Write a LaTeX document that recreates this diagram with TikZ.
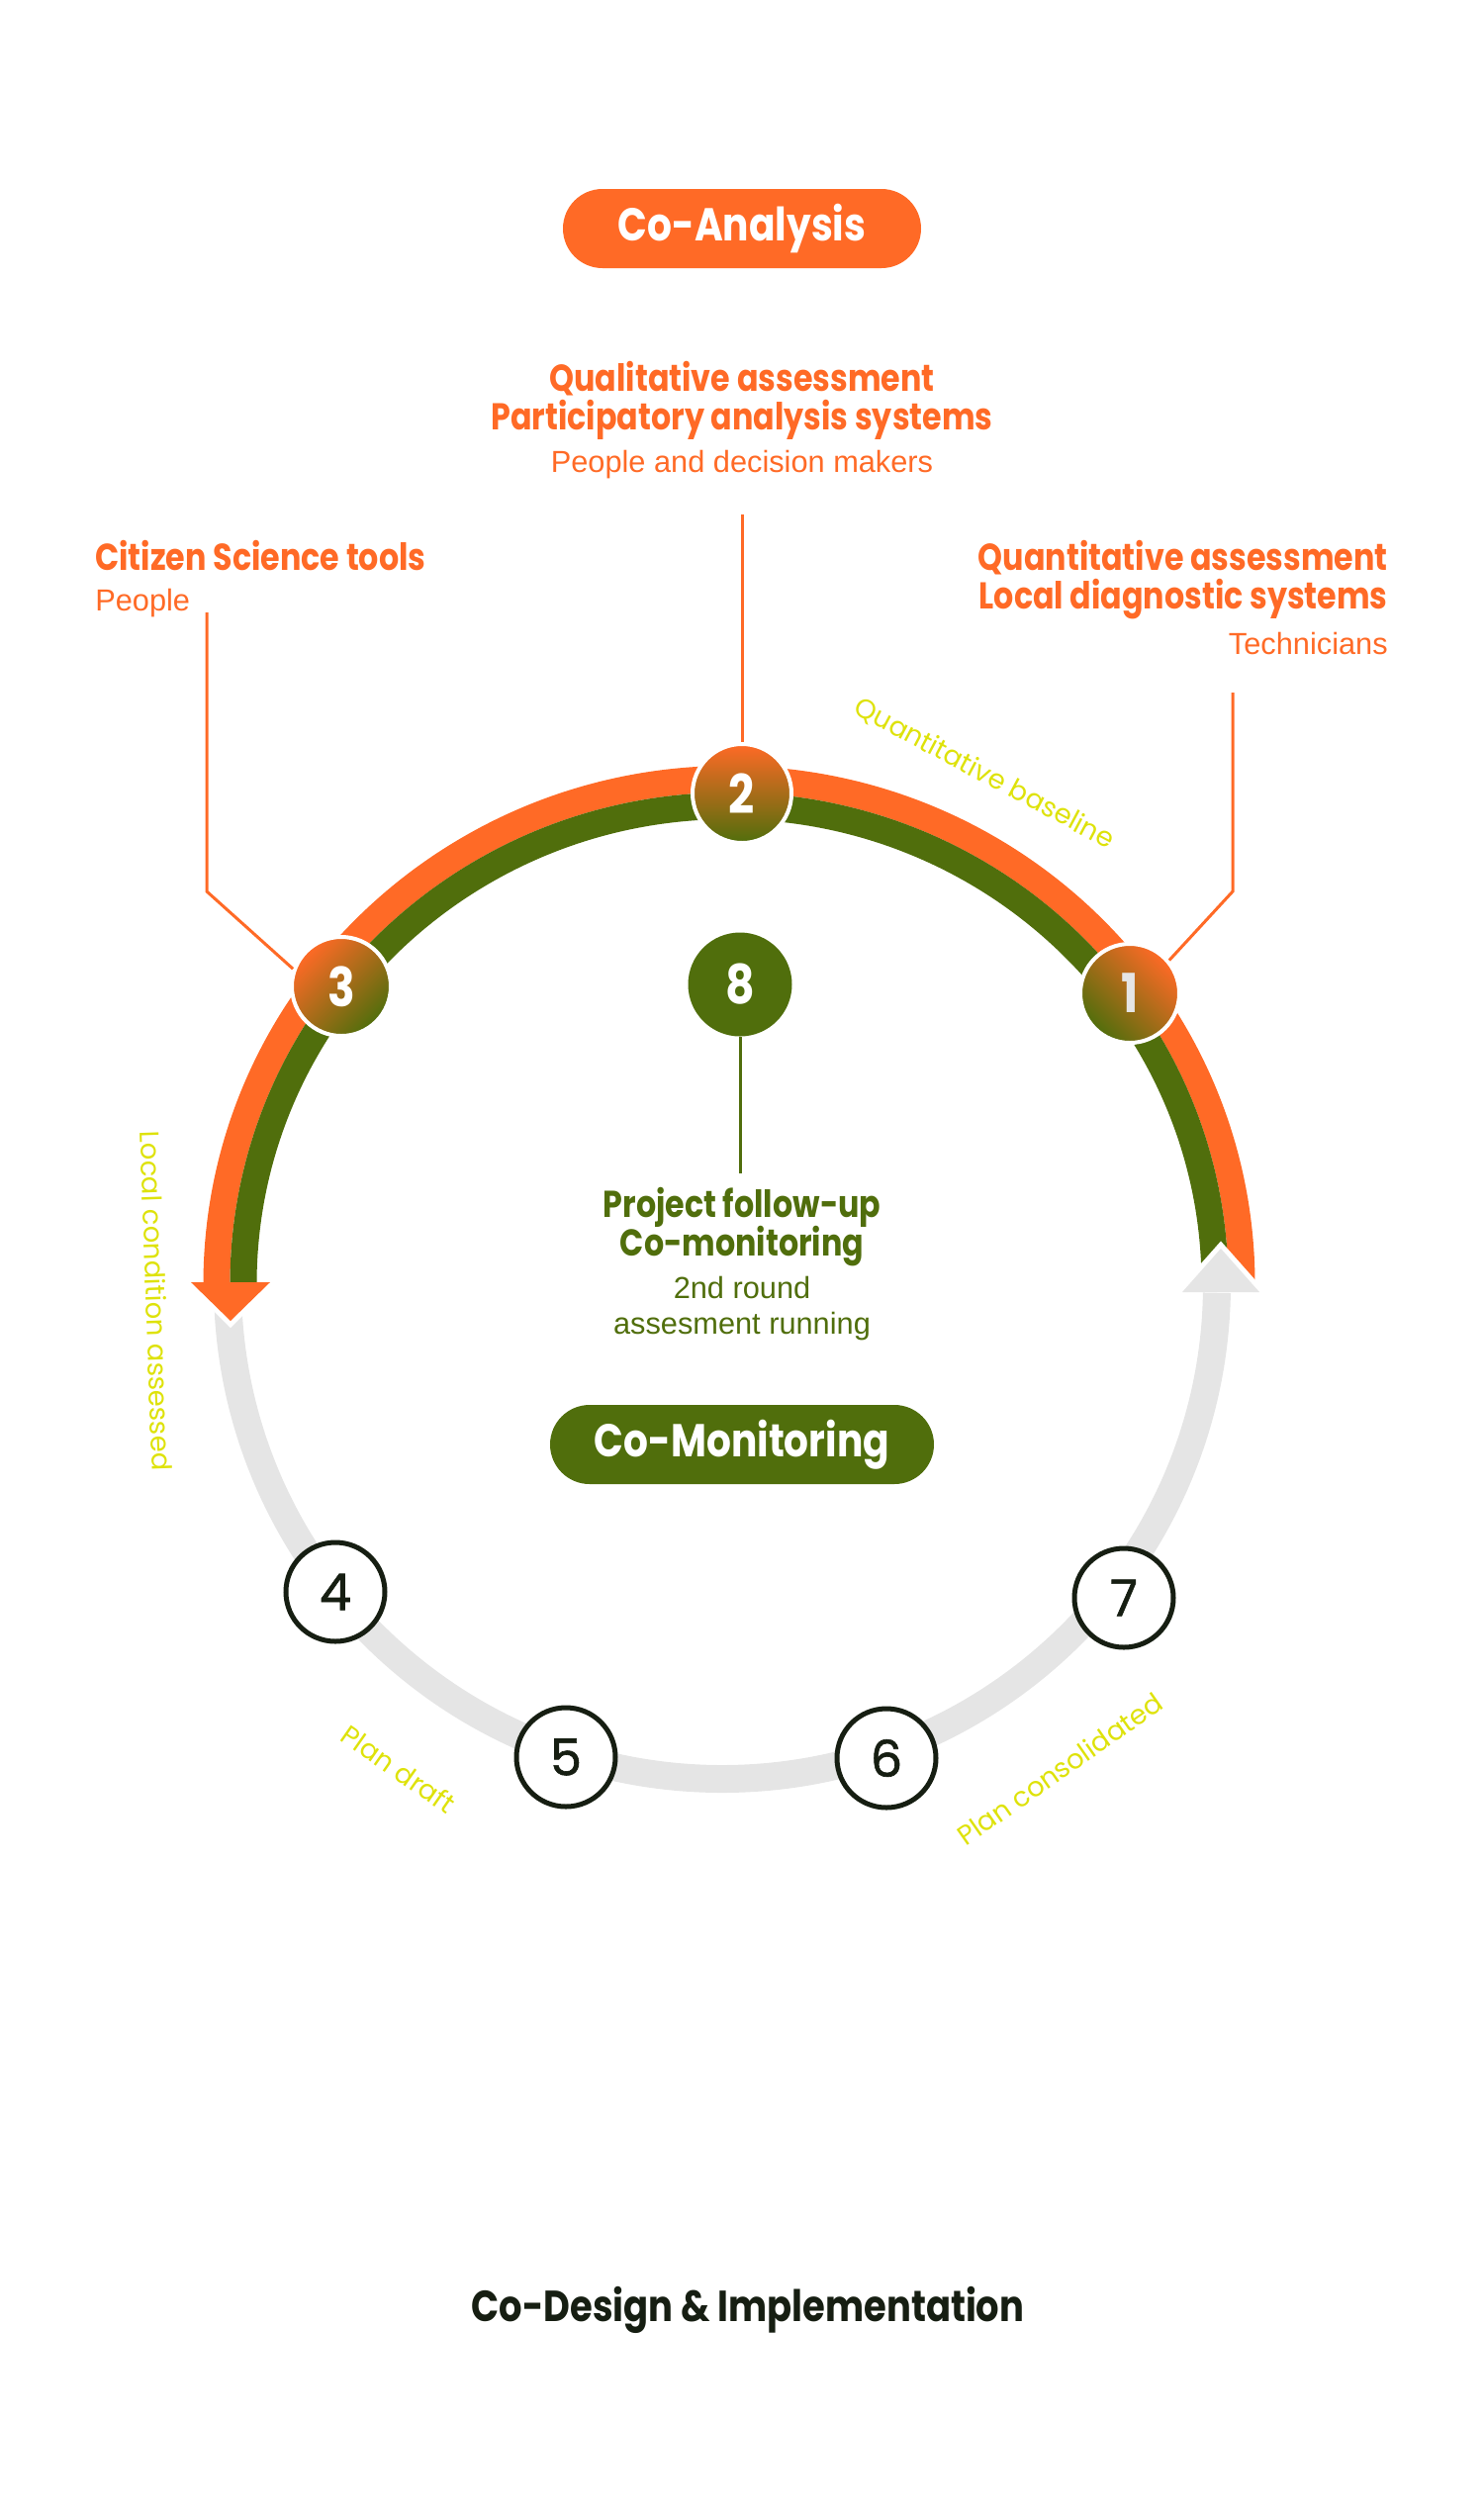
\documentclass[tikz,border=0pt]{standalone}
\usepackage{fontspec}
\usepackage{tikz}
\setmainfont{Liberation Sans}
\newfontfamily\dispfont[FakeStretch=0.84]{Poppins}
\newfontfamily\labfont{Poppins}
\newfontfamily\numfont[FakeBold=1.2]{Poppins}
\definecolor{coorange}{RGB}{255,106,38}
\definecolor{cogreen}{RGB}{80,110,12}
\definecolor{ringgray}{RGB}{229,229,229}
\definecolor{labyellow}{RGB}{222,226,10}
\definecolor{inkdark}{RGB}{22,30,18}

\begin{document}
\begin{tikzpicture}[
x=0.2mm, y=-0.2mm, % one unit = one pixel of the layout, y runs down
title/.style={font=\dispfont\bfseries\fontsize{21.5}{22}\selectfont, inner sep=0pt, anchor=base},
note/.style={font=\fontsize{17.5}{18}\selectfont, inner sep=0pt, anchor=base},
pill/.style={rounded corners=8mm, minimum height=16mm, text=white,
  font=\dispfont\bfseries\fontsize{26.5}{26.5}\selectfont},
arclabel/.style={font=\labfont\fontsize{15.6}{15.6}\selectfont, text=labyellow, inner sep=0pt},
hub/.style={circle, minimum size=20mm, draw=white, line width=0.8mm,
  top color=coorange, bottom color=cogreen, text=white,
  font=\dispfont\bfseries\fontsize{31}{31}\selectfont},
phase/.style={circle, minimum size=20mm, draw=inkdark, line width=1mm, fill=white,
  text=inkdark, font=\numfont\fontsize{29}{29}\selectfont},
lead/.style={coorange, line width=0.6mm}
]
\useasboundingbox (0,0) rectangle (1500,2540);

% ================= Ring =================
\coordinate (ctr) at (730,1298);
\coordinate (bandctr) at (737,1298);

% grey return path (bottom half)
\draw[ringgray, line width=5.6mm] (ctr) ++(180:500) arc[start angle=180, end angle=1, radius=500];

% orange / green band over the top
\draw[coorange, line width=5.4mm] (bandctr) ++(0:518) arc[start angle=0, end angle=-180, x radius=518, y radius=510.5];
\draw[cogreen, line width=5.4mm] (bandctr) ++(0:491) arc[start angle=0, end angle=-180, x radius=491, y radius=483.5];

% grey head on the right
\draw[white, line width=2mm] (1195,1306) -- (1234,1262) -- (1273,1306);
\fill[ringgray] (1195,1306) -- (1234,1262) -- (1273,1306) -- cycle;

% orange head on the left
\draw[white, line width=2mm] (213,1315) -- (233,1335) -- (253,1315);
\fill[coorange] (193,1296) -- (233,1335) -- (273,1296) -- cycle;

% ================= Nodes =================
\node[hub, shading angle=-45] (n1) at (1142,1004) {\textcolor{ringgray}{1}};
\node[hub] (n2) at (750,802) {2};
\node[hub, shading angle=45] (n3) at (345,997) {3};
\node[circle, minimum size=21mm, fill=cogreen, text=white,
  font=\dispfont\bfseries\fontsize{31}{31}\selectfont] (n8) at (748,995) {8};

\node[phase] (n4) at (339,1609) {4};
\node[phase] (n5) at (572,1776) {5};
\node[phase] (n6) at (896,1777) {6};
\node[phase] (n7) at (1136,1615) {7};

% Phase pills
\node[pill, fill=coorange, minimum width=72.4mm] (analysis) at (750,231) {Co-Analysis};
\node[pill, fill=cogreen, minimum width=77.6mm] (monitoring) at (750,1460) {Co-Monitoring};
\node[title, text=inkdark, font=\dispfont\bfseries\fontsize{25}{25}\selectfont] (design) at (756,2346) {Co-Design \& Implementation};

% Top block (step 2)
\node[title, text=coorange] (qual) at (750,395) {Qualitative assessment};
\node[title, text=coorange] (partic) at (750,434) {Participatory analysis systems};
\node[note, text=coorange] (people2) at (750,477) {People and decision makers};

% Left block (step 3)
\node[title, text=coorange, anchor=base west] (citizen) at (96,576) {Citizen Science tools};
\node[note, text=coorange, anchor=base west] (people3) at (96,617) {People};

% Right block (step 1)
\node[title, text=coorange, anchor=base east] (quant) at (1403,576) {Quantitative assessment};
\node[title, text=coorange, anchor=base east] (diag) at (1403,615) {Local diagnostic systems};
\node[note, text=coorange, anchor=base east] (tech) at (1403,661) {Technicians};

% Centre block (step 8)
\node[title, text=cogreen] (follow) at (750,1230) {Project follow-up};
\node[title, text=cogreen] (comon) at (750,1269) {Co-monitoring};
\node[note, text=cogreen] (round) at (750,1312) {2nd round};
\node[note, text=cogreen] (running) at (750,1348) {assesment running};

% Labels along the ring
\node[arclabel, rotate=-28] (baseline) at (995,782) {Quantitative baseline};
\node[arclabel, rotate=-88] (assessed) at (158,1315) {Local condition assessed};
\node[arclabel, rotate=-35] (draft) at (403,1788) {Plan draft};
\node[arclabel, rotate=35] (consol) at (1071,1788) {Plan consolidated};

% ================= Leaders =================
\coordinate (lead1a) at (1246,700);
\coordinate (lead1b) at (1246,901);
\coordinate (lead2a) at (750,520);
\coordinate (lead3a) at (209,619);
\coordinate (lead3b) at (209,901);
\coordinate (lead8a) at (748,1186);

\draw[lead] (lead2a) -- (n2);
\draw[lead] (lead3a) -- (lead3b) -- (n3.160);
\draw[lead] (lead1a) -- (lead1b) -- (n1.40);
\draw[lead, cogreen] (n8) -- (lead8a);

\end{tikzpicture}
\end{document}
